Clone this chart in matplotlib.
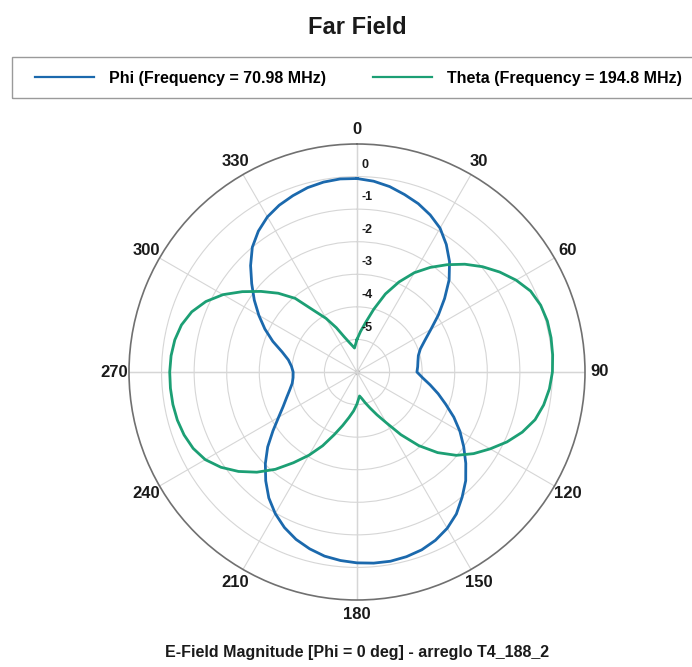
import numpy as np
import matplotlib
matplotlib.use("Agg")
import matplotlib.pyplot as plt
from matplotlib.lines import Line2D
from matplotlib.patches import Rectangle

plt.rcParams['font.family'] = ['Liberation Sans', 'DejaVu Sans']

# === data (dB) ===
phi_deg = [0, 5, 10, 15, 20, 25, 30, 35, 40, 45, 50, 55, 60, 65, 70, 75, 80, 85,
           90, 95, 100, 105, 110, 115, 120, 125, 130, 135, 140, 145, 150, 155, 160, 165, 170, 175,
           180, 185, 190, 195, 200, 205, 210, 215, 220, 225, 230, 235, 240, 245, 250, 255, 260, 265,
           270, 275, 280, 285, 290, 295, 300, 305, 310, 315, 320, 325, 330, 335, 340, 345, 350, 355, 360]
phi_db = [-0.06, -0.12, -0.22, -0.36, -0.50, -0.68, -0.90, -1.22, -1.58, -2.00, -2.49, -2.95, -3.38, -3.70, -3.93, -4.05, -4.10, -4.13,
          -4.16, -3.98, -3.72, -3.42, -3.10, -2.72, -2.35, -2.00, -1.64, -1.28, -0.98, -0.68, -0.46, -0.30, -0.19, -0.13, -0.10, -0.11,
          -0.14, -0.19, -0.26, -0.38, -0.53, -0.73, -0.98, -1.28, -1.64, -2.02, -2.42, -2.85, -3.22, -3.50, -3.70, -3.86, -3.98, -4.03,
          -4.04, -3.98, -3.86, -3.62, -3.25, -2.88, -2.52, -2.15, -1.78, -1.38, -1.00, -0.72, -0.50, -0.35, -0.24, -0.14, -0.08, -0.05, -0.06]

theta_deg = [0, 5, 10, 15, 20, 25, 30, 35, 40, 45, 50, 55, 60, 65, 70, 75, 80, 85,
             90, 95, 100, 105, 110, 115, 120, 125, 130, 135, 140, 145, 150, 155, 160, 165, 170, 174,
             180, 185, 190, 195, 200, 205, 210, 215, 220, 225, 230, 235, 240, 245, 250, 255, 260, 265,
             270, 275, 280, 285, 290, 295, 300, 305, 310, 315, 320, 325, 330, 335, 340, 345, 350, 354, 360]
theta_db = [-5.00, -4.75, -4.45, -4.00, -3.45, -2.95, -2.48, -2.08, -1.70, -1.32, -0.97, -0.65, -0.36, -0.12, 0.00, 0.05, 0.05, 0.03,
            0.00, -0.07, -0.18, -0.34, -0.60, -0.92, -1.28, -1.63, -2.02, -2.50, -3.05, -3.65, -4.20, -4.55, -4.82, -5.02, -5.18, -5.26,
            -5.02, -4.80, -4.58, -4.30, -3.95, -3.50, -3.05, -2.60, -2.10, -1.65, -1.25, -0.90, -0.62, -0.45, -0.35, -0.29, -0.26, -0.25,
            -0.25, -0.27, -0.32, -0.42, -0.60, -0.88, -1.25, -1.70, -2.15, -2.58, -3.05, -3.70, -4.10, -4.50, -4.85, -5.05, -5.18, -5.26, -5.00]

r_ticks = [-5, -4, -3, -2, -1, 0]
angle_ticks = [0, 30, 60, 90, 120, 150, 180, 210, 240, 270, 300, 330]

labels = ["Phi (Frequency = 70.98 MHz)", "Theta (Frequency = 194.8 MHz)"]
colores = ['#1b69ad', '#1c9f74']

W, H = 692, 667

# === figura ===
fig = plt.figure(figsize=(W / 100, H / 100), dpi=100)
ax = fig.add_axes([129 / W, (H - 600) / H, 456 / W, 456 / H], projection='polar')
ax.set_theta_zero_location('N')
ax.set_theta_direction(-1)
ax.set_ylim(-6, 1)
ax.set_yticks(r_ticks)
ax.set_yticklabels([])
ax.set_xticks(np.deg2rad(angle_ticks))
ax.set_xticklabels([])
ax.grid(True, color='#d6d6d6', linewidth=0.8)
ax.spines['polar'].set_color('#707070')
ax.spines['polar'].set_linewidth(1.2)

# ejes principales un poco mas oscuros
for a in [0, 90, 180, 270]:
    ax.plot(np.deg2rad([a, a]), [-6, 1], color='#b8b8b8', lw=0.9, zorder=1)
ax.plot([0], [-6], 'o', color='#b0b0b0', ms=3, zorder=1)

# curvas
ax.plot(np.deg2rad(phi_deg), phi_db, color=colores[0], lw=2.0, zorder=3)
ax.plot(np.deg2rad(theta_deg), theta_db, color=colores[1], lw=2.0, zorder=3)

# etiquetas radiales
for v in r_ticks:
    ax.annotate(str(v), xy=(0, v), xytext=(3.5, 8.5), textcoords='offset points',
                ha='left', va='center', fontsize=9, fontweight='bold', color='#1a1a1a')

# etiquetas angulares
for a in angle_ticks:
    ax.text(np.deg2rad(a), 1.46, str(a), ha='center', va='center', fontsize=12,
            fontweight='bold', color='#1a1a1a', clip_on=False)

# === titulo y textos ===
fig.text(357 / W, 1 - 28 / H, "Far Field", ha='center', va='center',
         fontsize=17, fontweight='bold', color='#1a1a1a')
fig.text(357 / W, 1 - 652 / H, "E-Field Magnitude [Phi = 0 deg] - arreglo T4_188_2",
         ha='center', va='center', fontsize=11.5, fontweight='bold', color='#1a1a1a')

# === leyenda ===
fig.patches.append(Rectangle((12 / W, 1 - 98 / H), 700 / W, 41 / H, transform=fig.transFigure,
                             fill=False, edgecolor='#9a9a9a', linewidth=1.0, clip_on=False))
handles = [Line2D([], [], color=c, lw=1.6) for c in colores]
fig.legend(handles, labels, loc='center left', bbox_to_anchor=(35 / W, 1 - 78 / H),
           ncol=2, frameon=False, borderpad=0, borderaxespad=0,
           handlelength=3.7, handletextpad=0.95, columnspacing=2.9,
           prop={'family': 'Liberation Sans', 'weight': 'bold', 'size': 11.5})

fig.savefig("out.png", dpi=100)
